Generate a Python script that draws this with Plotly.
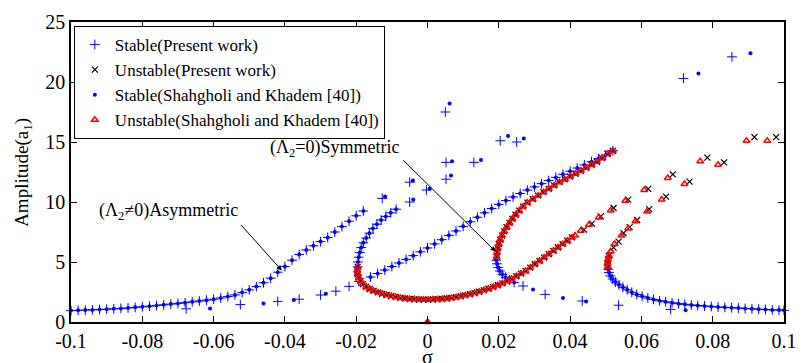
import plotly.graph_objects as go

# ---------------- data (sigma, amplitude a1) ----------------
# Asymmetric case, left stable branch (dense; both methods coincide)
asym_left_x = [-0.100, -0.098, -0.096, -0.094, -0.092, -0.090, -0.088, -0.086, -0.084, -0.082,
               -0.080, -0.078, -0.076, -0.074, -0.072, -0.070, -0.068, -0.066, -0.064, -0.062,
               -0.060, -0.058, -0.056, -0.054, -0.052, -0.050, -0.048, -0.046, -0.044, -0.042,
               -0.040, -0.038, -0.036, -0.034, -0.032, -0.030, -0.028, -0.026, -0.024, -0.022,
               -0.020, -0.018]
asym_left_y = [0.95, 0.97, 0.99, 1.01, 1.04, 1.07, 1.10, 1.13, 1.17, 1.22,
               1.27, 1.32, 1.37, 1.43, 1.49, 1.55, 1.61, 1.68, 1.75, 1.82,
               1.90, 2.00, 2.12, 2.26, 2.45, 2.68, 2.95, 3.27, 3.65, 4.15,
               4.62, 5.15, 5.62, 6.00, 6.35, 6.70, 7.05, 7.50, 7.95, 8.40,
               8.85, 9.25]
# Asymmetric case, upper sparse points
asym_top_plus_x = [-0.0127, -0.0050, 0.0052, 0.0204, 0.0050, 0.0718]
asym_top_plus_y = [10.30, 11.65, 13.30, 15.10, 17.50, 20.30]
asym_top_dot_x = [-0.0119, -0.0041, 0.0069, 0.0226, 0.0062, 0.0760]
asym_top_dot_y = [10.45, 11.80, 13.40, 15.50, 18.20, 20.70]
# Asymmetric case, right lower stable branch (dense)
asym_right_x = [0.0507, 0.0509, 0.0513, 0.0519, 0.0527, 0.0537, 0.0548, 0.0560, 0.0573, 0.0587,
                0.0602, 0.0618, 0.0634, 0.0651, 0.0668, 0.0686, 0.0704, 0.0722, 0.0740, 0.0758,
                0.0777, 0.0796, 0.0815, 0.0834, 0.0853, 0.0872, 0.0891, 0.0910, 0.0929, 0.0948,
                0.0967, 0.0986, 0.1000]
asym_right_y = [4.40, 4.12, 3.84, 3.58, 3.33, 3.10, 2.89, 2.68, 2.48, 2.30,
                2.14, 2.00, 1.88, 1.77, 1.68, 1.60, 1.53, 1.47, 1.42, 1.37,
                1.33, 1.29, 1.25, 1.22, 1.19, 1.16, 1.13, 1.10, 1.07, 1.04,
                1.01, 0.99, 0.97]
# Asymmetric case, right unstable branch
asym_unst_dense_x = [0.0506, 0.0505, 0.0506, 0.0509]
asym_unst_dense_y = [4.60, 4.90, 5.20, 5.50]
asym_unst_tri_x = [0.0514, 0.0525, 0.0544, 0.0563, 0.0583, 0.0616, 0.0657, 0.0721, 0.0815, 0.0953]
asym_unst_tri_y = [5.90, 6.50, 7.20, 7.80, 8.40, 9.20, 10.20, 11.50, 13.10, 15.10]
asym_unst_x_x = [0.0522, 0.0536, 0.0550, 0.0567, 0.0588, 0.0622, 0.0669, 0.0735, 0.0832, 0.0978]
asym_unst_x_y = [6.20, 6.70, 7.40, 7.90, 8.50, 9.40, 10.45, 11.70, 13.30, 15.40]

# Symmetric case, main stable branch (left sparse part)
sym_main_plus_x = [-0.0677, -0.0525, -0.0420, -0.0360, -0.0300, -0.0257, -0.0220, -0.0193]
sym_main_plus_y = [1.10, 1.45, 1.72, 1.90, 2.25, 2.57, 2.97, 3.38]
sym_main_dot_x = [-0.0610, -0.0460, -0.0375, -0.0285]
sym_main_dot_y = [1.12, 1.55, 1.83, 2.35]
# Symmetric case, main stable branch (dense part up to the peak)
sym_main_x = [-0.016, -0.014, -0.012, -0.010, -0.008, -0.006, -0.004, -0.002, 0.000, 0.002,
              0.004, 0.006, 0.008, 0.010, 0.012, 0.014, 0.016, 0.018, 0.020, 0.022,
              0.024, 0.026, 0.028, 0.030, 0.032, 0.034, 0.036, 0.038, 0.040, 0.042,
              0.044, 0.046, 0.048, 0.050, 0.052]
sym_main_y = [3.75, 4.04, 4.33, 4.62, 4.92, 5.22, 5.53, 5.85, 6.17, 6.51,
              6.86, 7.22, 7.59, 7.97, 8.35, 8.73, 9.10, 9.46, 9.80, 10.12,
              10.42, 10.71, 10.99, 11.26, 11.53, 11.79, 12.05, 12.31, 12.57, 12.83,
              13.09, 13.36, 13.63, 13.92, 14.28]
# Symmetric case, middle unstable branch (peak down to vertical tangent)
sym_mid_x = [0.0520, 0.0505, 0.0490, 0.0475, 0.0460, 0.0445, 0.0430, 0.0415, 0.0400, 0.0385,
             0.0370, 0.0355, 0.0340, 0.0325, 0.0310, 0.0295, 0.0280, 0.0268, 0.0257, 0.0247,
             0.0238, 0.0230, 0.0222, 0.0215, 0.0209, 0.0204, 0.0200, 0.0197, 0.0195, 0.0194]
sym_mid_y = [14.25, 14.00, 13.65, 13.35, 13.10, 12.85, 12.60, 12.35, 12.12, 11.88,
             11.65, 11.38, 11.10, 10.82, 10.53, 10.24, 9.95, 9.62, 9.28, 8.94,
             8.60, 8.26, 7.90, 7.55, 7.20, 6.85, 6.50, 6.15, 5.80, 5.45]
# Symmetric case, lower stable branch
sym_low_x = [0.0193, 0.0195, 0.0198, 0.0203, 0.0210, 0.0219, 0.0230, 0.0243]
sym_low_y = [5.15, 4.85, 4.55, 4.25, 3.97, 3.72, 3.50, 3.30]
sym_low_plus_x = [0.0268, 0.0330, 0.0434, 0.0536, 0.0682]
sym_low_plus_y = [3.00, 2.30, 1.75, 1.40, 1.05]
sym_low_dot_x = [0.0296, 0.0380, 0.0445, 0.0724]
sym_low_dot_y = [2.70, 2.00, 1.70, 0.97]
# Symmetric case, left stable branch rising from the loop
sym_up_x = [-0.0196, -0.0195, -0.0193, -0.0190, -0.0186, -0.0180, -0.0172, -0.0163, -0.0153, -0.0142,
            -0.0130, -0.0117, -0.0103, -0.0088]
sym_up_y = [4.60, 5.00, 5.40, 5.80, 6.20, 6.60, 7.00, 7.40, 7.80, 8.15,
            8.50, 8.80, 9.10, 9.40]
sym_up_plus_x = [-0.0050, -0.0003, 0.0052, 0.0130, 0.0250, 0.0854]
sym_up_plus_y = [10.00, 11.00, 11.90, 13.30, 15.00, 22.10]
sym_up_dot_x = [-0.0040, 0.0006, 0.0066, 0.0150, 0.0270, 0.0906]
sym_up_dot_y = [10.20, 11.10, 12.20, 13.50, 15.30, 22.40]
# Symmetric case, unstable loop and its rising continuation
sym_loop_x = [-0.0196, -0.0197, -0.0196, -0.0193, -0.0188, -0.0181, -0.0172, -0.0162, -0.0151, -0.0139,
              -0.0127, -0.0115, -0.0102, -0.0089, -0.0076, -0.0063, -0.0050, -0.0037, -0.0024, -0.0011,
              0.0002, 0.0015, 0.0028, 0.0041, 0.0054, 0.0067, 0.0080, 0.0093, 0.0106, 0.0119,
              0.0132, 0.0145, 0.0158, 0.0171, 0.0184, 0.0197, 0.0210, 0.0223, 0.0236, 0.0249,
              0.0262, 0.0275, 0.0288, 0.0301, 0.0314, 0.0327, 0.0340, 0.0353, 0.0366, 0.0379,
              0.0392, 0.0405]
sym_loop_y = [4.60, 4.30, 4.00, 3.70, 3.42, 3.16, 2.93, 2.75, 2.60, 2.47,
              2.35, 2.25, 2.16, 2.08, 2.01, 1.96, 1.92, 1.89, 1.87, 1.86,
              1.86, 1.87, 1.89, 1.92, 1.96, 2.01, 2.07, 2.14, 2.22, 2.31,
              2.41, 2.52, 2.64, 2.77, 2.91, 3.06, 3.22, 3.40, 3.60, 3.81,
              4.03, 4.26, 4.53, 4.81, 5.09, 5.37, 5.65, 5.93, 6.21, 6.49,
              6.77, 7.05]
sym_loop_tri_x = [0.0414, 0.0430, 0.0453, 0.0480, 0.0514, 0.0555, 0.0608, 0.0674, 0.0765, 0.0895]
sym_loop_tri_y = [7.20, 7.60, 8.10, 8.70, 9.30, 10.10, 11.00, 12.00, 13.40, 15.10]
sym_loop_x_x = [0.0439, 0.0461, 0.0486, 0.0522, 0.0563, 0.0619, 0.0688, 0.0785, 0.0917]
sym_loop_x_y = [7.70, 8.20, 8.80, 9.50, 10.20, 11.10, 12.30, 13.70, 15.40]
# Trivial solution
origin_x = [0.0]
origin_y = [0.0]

x_tick_vals = [-0.1, -0.08, -0.06, -0.04, -0.02, 0, 0.02, 0.04, 0.06, 0.08, 0.1]
x_tick_text = ["-0.1", "-0.08", "-0.06", "-0.04", "-0.02", "0", "0.02", "0.04", "0.06", "0.08", "0.1"]
y_tick_vals = [0, 5, 10, 15, 20, 25]
y_tick_text = ["0", "5", "10", "15", "20", "25"]

# ---------------- assemble series ----------------
stable_present_x = (asym_left_x + asym_top_plus_x + asym_right_x + sym_main_plus_x + sym_main_x
                    + sym_low_x + sym_low_plus_x + sym_up_x + sym_up_plus_x)
stable_present_y = (asym_left_y + asym_top_plus_y + asym_right_y + sym_main_plus_y + sym_main_y
                    + sym_low_y + sym_low_plus_y + sym_up_y + sym_up_plus_y)
stable_ref_x = (asym_left_x + asym_top_dot_x + asym_right_x + sym_main_dot_x + sym_main_x
                + sym_low_x + sym_low_dot_x + sym_up_x + sym_up_dot_x + origin_x)
stable_ref_y = (asym_left_y + asym_top_dot_y + asym_right_y + sym_main_dot_y + sym_main_y
                + sym_low_y + sym_low_dot_y + sym_up_y + sym_up_dot_y + origin_y)
unstable_present_x = asym_unst_dense_x + asym_unst_x_x + sym_mid_x + sym_loop_x + sym_loop_x_x
unstable_present_y = asym_unst_dense_y + asym_unst_x_y + sym_mid_y + sym_loop_y + sym_loop_x_y
unstable_ref_x = asym_unst_dense_x + asym_unst_tri_x + sym_mid_x + sym_loop_x + sym_loop_tri_x + origin_x
unstable_ref_y = asym_unst_dense_y + asym_unst_tri_y + sym_mid_y + sym_loop_y + sym_loop_tri_y + origin_y

BLUE = "#0000ff"
RED = "#ff0000"
FONT = "Liberation Serif, Times New Roman, serif"

fig = go.Figure()
fig.add_trace(go.Scatter(
    x=stable_present_x, y=stable_present_y, mode="markers", name="Stable(Present work)",
    marker=dict(symbol="cross-thin", size=7, color=BLUE, line=dict(color=BLUE, width=1)),
    cliponaxis=False))
fig.add_trace(go.Scatter(
    x=unstable_present_x, y=unstable_present_y, mode="markers", name="Unstable(Present work)",
    marker=dict(symbol="x-thin", size=6, color="black", line=dict(color="black", width=1.2)),
    cliponaxis=False))
fig.add_trace(go.Scatter(
    x=stable_ref_x, y=stable_ref_y, mode="markers", name="Stable(Shahgholi and Khadem [40])",
    marker=dict(symbol="circle", size=4, color=BLUE, line=dict(width=0)),
    cliponaxis=False))
fig.add_trace(go.Scatter(
    x=unstable_ref_x, y=unstable_ref_y, mode="markers", name="Unstable(Shahgholi and Khadem [40])",
    marker=dict(symbol="triangle-up-open", size=6, color=RED, line=dict(color=RED, width=1.5)),
    cliponaxis=False))

axis_common = dict(showline=True, linecolor="black", linewidth=1.5, mirror="ticks",
                   ticks="inside", ticklen=6, tickwidth=1, tickcolor="black",
                   showgrid=False, zeroline=False,
                   tickfont=dict(family=FONT, size=20, color="black"))
fig.update_xaxes(range=[-0.1, 0.1], tickvals=x_tick_vals, ticktext=x_tick_text, **axis_common)
fig.update_yaxes(range=[0, 25], tickvals=y_tick_vals, ticktext=y_tick_text, **axis_common)

fig.update_layout(
    width=808, height=363,
    margin=dict(l=71, r=11, t=19, b=33),
    paper_bgcolor="white", plot_bgcolor="white",
    font=dict(family=FONT, color="black"),
    legend=dict(x=0.004, y=0.987, xanchor="left", yanchor="top",
                bgcolor="white", bordercolor="black", borderwidth=1,
                font=dict(family=FONT, size=17, color="black"),
                tracegroupgap=0),
    showlegend=True,
)

annotations = [
    dict(x=-0.0727, y=9.24, xref="x", yref="y", text="(Λ<sub>2</sub>≠0)Asymmetric",
         showarrow=False, font=dict(family=FONT, size=18, color="black")),
    dict(x=-0.0409, y=4.3, xref="x", yref="y", text="", showarrow=True,
         ax=-42, ay=-47, arrowhead=2, arrowsize=1, arrowwidth=1, arrowcolor="black"),
    dict(x=-0.0262, y=14.47, xref="x", yref="y", text="(Λ<sub>2</sub>=0)Symmetric",
         showarrow=False, font=dict(family=FONT, size=18, color="black")),
    dict(x=0.0191, y=5.87, xref="x", yref="y", text="", showarrow=True,
         ax=-94, ay=-93, arrowhead=2, arrowsize=1, arrowwidth=1, arrowcolor="black"),
    dict(x=-0.0675, y=0.5, xref="paper", yref="paper", text="Amplitude(a<sub>1</sub>)",
         xanchor="center", yanchor="middle",
         textangle=-90, showarrow=False, font=dict(family=FONT, size=19, color="black")),
    dict(x=0.0, y=-0.074, xref="x", yref="paper", text="σ", xanchor="center", yanchor="top",
         showarrow=False, font=dict(family=FONT, size=20, color="black")),
]
fig.update_layout(annotations=annotations)

fig.write_html("out.html")
